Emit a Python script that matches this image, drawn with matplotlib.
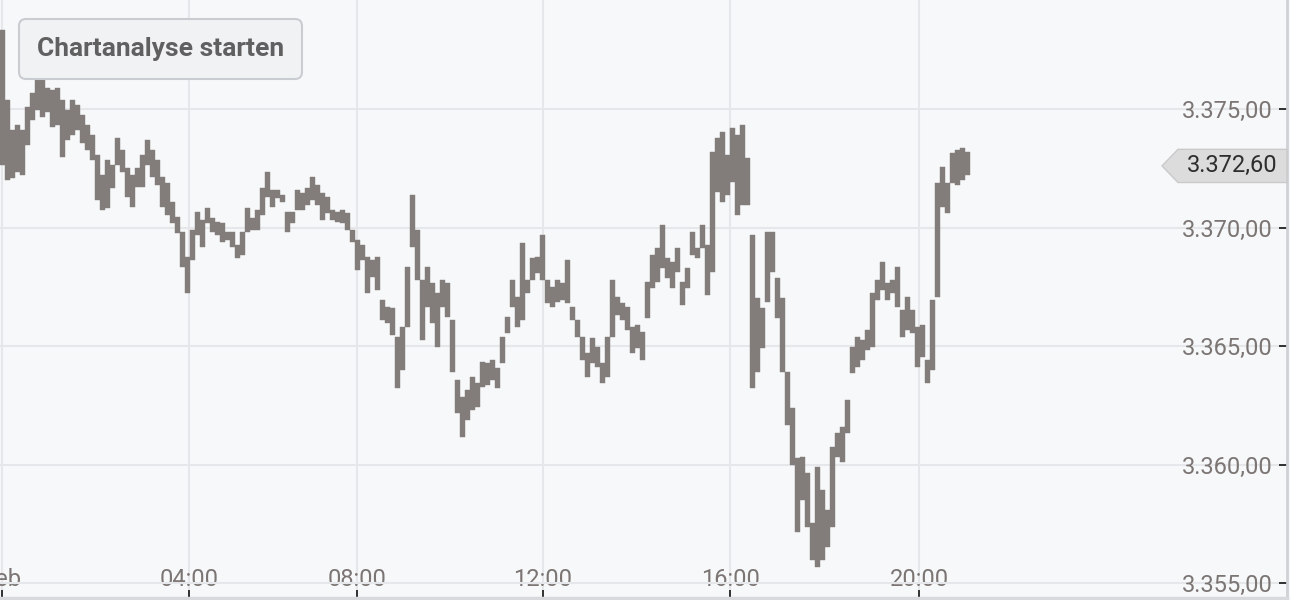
import numpy as np
import matplotlib.pyplot as plt
from matplotlib.patches import FancyBboxPatch
from matplotlib.transforms import IdentityTransform

# Hoch/Tief je Balken (ein Balken ~ 6 Minuten)
hoch = [
    3378.33, 3375.38, 3374.11, 3374.33, 3374.11, 3375.08, 3375.68, 3376.31, 3376.22, 3375.89,
    3375.80, 3375.89, 3375.38, 3374.96, 3375.38, 3375.17, 3374.75, 3374.33, 3373.90, 3373.06,
    3372.22, 3372.85, 3372.64, 3373.78, 3373.27, 3372.51, 3372.22, 3372.51, 3373.06, 3373.69,
    3373.27, 3372.85, 3372.13, 3371.88, 3371.08, 3370.44, 3369.81, 3368.75, 3369.89, 3370.65,
    3370.32, 3370.82, 3370.40, 3370.23, 3370.19, 3369.81, 3369.81, 3369.26, 3369.81, 3370.82,
    3370.40, 3370.74, 3371.67, 3372.34, 3371.58, 3371.58, 3371.37, 3370.65, 3370.65, 3371.58,
    3371.46, 3371.67, 3372.13, 3371.79, 3371.46, 3371.29, 3370.74, 3370.65, 3370.74, 3370.61,
    3369.89, 3369.47, 3369.26, 3368.75, 3368.63, 3368.75, 3366.94, 3366.65, 3366.60, 3365.38,
    3365.80, 3368.33, 3371.37, 3369.89, 3367.78, 3368.33, 3367.66, 3367.24, 3367.78, 3367.66,
    3366.10, 3363.56, 3362.85, 3363.14, 3363.69, 3363.44, 3364.32, 3364.28, 3364.41, 3364.07,
    3365.38, 3366.22, 3367.78, 3367.07, 3369.35, 3367.78, 3368.71, 3368.75, 3369.68, 3367.78,
    3367.49, 3367.78, 3367.66, 3368.63, 3366.64, 3366.10, 3365.38, 3364.70, 3365.34, 3364.96,
    3364.28, 3365.38, 3367.78, 3367.07, 3366.81, 3366.64, 3365.80, 3365.88, 3365.59, 3367.70,
    3368.84, 3369.13, 3370.10, 3368.71, 3368.54, 3369.13, 3367.70, 3368.29, 3369.81, 3369.13,
    3370.10, 3369.26, 3373.19, 3373.78, 3374.03, 3373.06, 3374.20, 3373.90, 3374.33, 3372.93,
    3369.68, 3367.02, 3366.60, 3369.81, 3369.81, 3367.87, 3367.02, 3363.90, 3362.38, 3360.27,
    3360.31, 3359.64, 3357.53, 3359.89, 3358.92, 3358.08, 3360.74, 3361.33, 3361.58, 3362.72,
    3364.96, 3365.38, 3365.25, 3365.67, 3367.24, 3367.78, 3368.54, 3367.66, 3367.78, 3368.33,
    3366.52, 3367.07, 3366.52, 3365.80, 3365.88, 3364.41, 3366.94, 3371.88, 3372.55, 3371.88,
    3373.14, 3373.27, 3373.35, 3373.19,
]
tief = [
    3372.64, 3372.00, 3372.09, 3372.34, 3372.22, 3373.48, 3374.54, 3374.96, 3374.66, 3374.87,
    3374.24, 3374.33, 3372.97, 3373.69, 3373.90, 3374.11, 3373.57, 3373.27, 3372.85, 3371.16,
    3370.74, 3370.82, 3371.67, 3372.64, 3372.34, 3371.29, 3370.86, 3371.71, 3371.71, 3372.64,
    3372.13, 3371.79, 3370.86, 3370.53, 3370.19, 3369.77, 3368.33, 3367.24, 3368.63, 3369.68,
    3369.18, 3370.19, 3369.81, 3369.68, 3369.39, 3369.47, 3369.18, 3368.71, 3368.84, 3369.81,
    3369.89, 3369.89, 3370.53, 3371.29, 3370.86, 3371.24, 3371.08, 3369.81, 3370.19, 3370.74,
    3370.74, 3370.95, 3371.16, 3370.95, 3370.32, 3370.61, 3370.32, 3370.23, 3370.19, 3369.89,
    3369.39, 3368.21, 3368.63, 3367.24, 3367.91, 3367.36, 3366.10, 3365.97, 3365.46, 3363.23,
    3363.99, 3365.80, 3369.18, 3367.78, 3365.25, 3366.64, 3365.97, 3364.96, 3366.64, 3366.22,
    3363.90, 3362.17, 3361.16, 3361.88, 3362.30, 3362.42, 3363.27, 3363.35, 3363.56, 3363.23,
    3364.28, 3365.55, 3366.64, 3365.80, 3366.10, 3367.24, 3367.78, 3368.08, 3367.78, 3366.81,
    3366.64, 3366.86, 3366.94, 3366.81, 3366.10, 3365.38, 3364.41, 3363.69, 3364.28, 3364.11,
    3363.44, 3363.69, 3365.38, 3366.31, 3366.10, 3365.67, 3364.70, 3364.91, 3364.41, 3366.18,
    3367.45, 3367.70, 3368.29, 3367.87, 3367.45, 3368.12, 3366.73, 3367.45, 3368.84, 3368.71,
    3369.13, 3367.15, 3368.12, 3371.50, 3371.08, 3371.37, 3371.92, 3370.53, 3370.95, 3370.95,
    3363.23, 3363.90, 3364.91, 3366.86, 3368.12, 3366.18, 3363.90, 3361.66, 3359.98, 3357.15,
    3358.50, 3357.36, 3355.97, 3355.67, 3355.97, 3356.52, 3357.36, 3360.31, 3360.10, 3361.33,
    3363.86, 3364.11, 3364.41, 3364.83, 3364.96, 3366.94, 3367.36, 3366.94, 3367.24, 3366.64,
    3365.38, 3365.67, 3365.55, 3364.11, 3364.53, 3363.44, 3363.99, 3367.07, 3370.86, 3370.61,
    3371.88, 3371.79, 3372.00, 3372.22,
]

zeit_pos = [0, 37.4, 71, 108.2, 145.6, 183.4]
zeit_labels = ['Feb', '04:00', '08:00', '12:00', '16:00', '20:00']
preis_ticks = [3355, 3360, 3365, 3370, 3375]
letzter_kurs = 3372.60


def de_format(v):
    s = f'{v:,.2f}'
    return s.replace(',', '#').replace('.', ',').replace('#', '.')


bg = '#f7f8fa'
fig = plt.figure(figsize=(12.9, 6.0), dpi=100)
fig.patch.set_facecolor(bg)
ax = fig.add_axes([0, 2 / 600, 1287 / 1290, 598 / 600])
ax.set_facecolor(bg)

x = np.arange(len(hoch))
h = np.array(hoch)
t = np.array(tief)
ax.bar(x, h - t, bottom=t, width=1.0, color='#827c7a', edgecolor='#827c7a',
       linewidth=0.3, zorder=2)

ax.set_xlim(-0.4, -0.4 + 1287 / 5)
ax.set_ylim(3354.37, 3379.6)

ax.set_xticks(zeit_pos, zeit_labels)
ax.set_yticks(preis_ticks, [de_format(v) for v in preis_ticks])
ax.grid(True, color='#e6e7ea', linewidth=1.5)
ax.set_axisbelow(True)

ax.yaxis.tick_right()
ax.tick_params(axis='y', direction='in', length=5.5, width=1.3, color='#222222',
               pad=-10, labelsize=17, labelcolor='#7b7573')
for lbl in ax.get_yticklabels():
    lbl.set_horizontalalignment('right')
    lbl.set_fontfamily('Roboto')
ax.tick_params(axis='x', direction='in', length=6, width=1.3, color='#222222',
               pad=-21.5, labelsize=17, labelcolor='#7b7573')
for lbl in ax.get_xticklabels():
    lbl.set_fontfamily('Roboto')

for s in ['top', 'left']:
    ax.spines[s].set_visible(False)
ax.spines['bottom'].set_color('#d8d9dc')
ax.spines['bottom'].set_linewidth(2.5)
ax.spines['right'].set_color('#d0d1d4')
ax.spines['right'].set_linewidth(2)

# Kursmarke rechts
dy = 0.70
ax.fill([1162 / 1287, 1178 / 1287, 1, 1, 1178 / 1287],
        [letzter_kurs, letzter_kurs + dy, letzter_kurs + dy, letzter_kurs - dy, letzter_kurs - dy],
        transform=ax.get_yaxis_transform(), fc='#dcdcdc', ec='#cacaca', lw=1,
        clip_on=False, zorder=5)
ax.text(1277 / 1287, letzter_kurs, de_format(letzter_kurs), transform=ax.get_yaxis_transform(),
        ha='right', va='center', fontsize=17, color='#2e2e2e', family='Roboto', zorder=6)

# Button oben links
box = FancyBboxPatch((19, 521), 283, 60, boxstyle='round,pad=0,rounding_size=7',
                     transform=IdentityTransform(), fc='#f1f2f4', ec='#c9ccd1', lw=1.5, zorder=10)
fig.add_artist(box)
fig.text(160.5 / 1290, 1 - 56 / 600, 'Chartanalyse starten', ha='center', va='baseline',
         fontsize=19, weight='bold', color='#606060', family='Roboto', zorder=11)

fig.savefig('out.png', dpi=100, facecolor=fig.get_facecolor())
